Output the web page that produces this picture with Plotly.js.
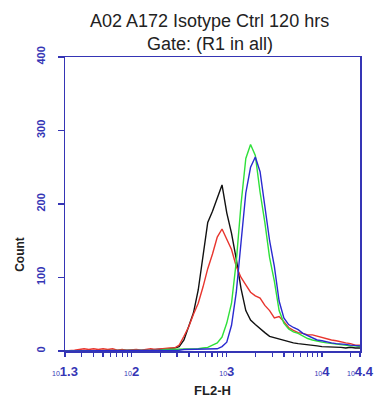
<!DOCTYPE html>
<html><head><meta charset="utf-8">
<script src="https://cdn.plot.ly/plotly-3.0.1.min.js"></script>
<style>html,body{margin:0;padding:0;background:#fff;}#chart{width:376px;height:407px;}</style>
</head><body><div id="chart"></div>
<script>
// FL2-H histogram bins (log10 of intensity)
var logFL2 = [1.30,1.35,1.40,1.45,1.50,1.55,1.60,1.65,1.70,1.75,1.80,1.85,1.90,1.95,2.00,2.05,2.10,2.15,2.20,2.25,2.30,2.35,2.40,2.45,2.50,2.55,2.60,2.65,2.70,2.75,2.80,2.85,2.90,2.95,3.00,3.05,3.10,3.15,3.20,3.25,3.30,3.35,3.40,3.45,3.50,3.55,3.60,3.65,3.70,3.75,3.80,3.85,3.90,3.95,4.00,4.05,4.10,4.15,4.20,4.25,4.30,4.35,4.40];
var blackCounts = [0,0,0,1,0,1,0,1,1,0,1,0,1,0,1,1,0,1,1,2,2,3,3,4,6,15,33,52,83,128,175,190,208,226,188,160,125,85,55,42,36,30,25,20,18,16,14,12,11,10,9,8,8,7,6,6,5,5,5,4,5,4,4];
var redCounts   = [0,0,1,2,3,2,3,2,3,2,3,1,2,1,2,2,1,2,3,2,3,3,4,4,8,20,33,50,65,87,112,132,155,166,152,138,115,100,90,80,75,72,62,55,45,47,40,32,28,25,24,22,22,20,18,17,15,14,12,11,10,8,8];
var greenCounts = [0,0,0,0,0,1,0,0,1,0,0,1,0,0,1,0,1,0,1,1,1,2,2,2,2,3,3,3,3,4,5,8,11,19,38,65,122,200,262,281,266,216,175,127,95,55,38,30,26,24,20,17,15,13,12,11,10,9,8,8,7,7,6];
var blueCounts  = [0,0,0,0,0,0,1,0,0,1,0,0,0,1,0,0,1,0,0,1,1,1,1,1,1,2,2,2,2,2,2,3,3,6,12,35,80,148,215,250,264,244,198,150,115,68,45,36,32,29,24,21,18,15,14,12,11,10,10,9,8,8,7];

var majorTicks = [1.3, 2, 3, 4, 4.4];
var majorLabels = ["1.3","2","3","4","4.4"];
var minorTicks = [30,40,50,60,70,80,90,200,300,400,500,600,700,800,900,2000,3000,4000,5000,6000,7000,8000,9000,20000];
var yTicks = [0,100,200,300,400];

var xs = logFL2.map(function(v){return Math.pow(10,v);});
var tickvals = [], ticktext = [];
majorTicks.forEach(function(m,i){tickvals.push(Math.pow(10,m)); ticktext.push("<span style='font-size:7px'>10</span><b>"+majorLabels[i]+"</b>");});
minorTicks.forEach(function(m){tickvals.push(m); ticktext.push("");});

function tr(y,c){return {x:xs,y:y,type:'scatter',mode:'lines',line:{color:c,width:1.4,shape:'linear'},hoverinfo:'skip'};}
var data=[tr(blackCounts,'#111111'),tr(redCounts,'#e8352e'),tr(greenCounts,'#2fe03a'),tr(blueCounts,'#2a2ad0')];

var axisBlue='#3535b5';
var fam='Liberation Sans, Arial, sans-serif';
var layout={
  width:376,height:407,
  margin:{l:65,r:16,t:57,b:56},
  paper_bgcolor:'#fff',plot_bgcolor:'#fff',
  showlegend:false,
  font:{family:fam,color:'#222'},
  xaxis:{type:'log',range:[1.3,4.4],tickmode:'array',tickvals:tickvals,ticktext:ticktext,
    ticks:'outside',ticklen:4,tickwidth:1.2,tickcolor:axisBlue,showgrid:false,zeroline:false,
    showline:true,linecolor:axisBlue,linewidth:1.5,mirror:true,ticklabelstandoff:4,
    tickfont:{size:13,color:axisBlue,family:fam},
    title:{text:'<b>FL2-H</b>',font:{size:13,color:'#222'},standoff:8}},
  yaxis:{range:[0,400],tickmode:'array',tickvals:yTicks,ticktext:yTicks.map(function(v){return '<b>'+v+'</b>';}),
    tickangle:-90,ticks:'outside',ticklen:6,tickwidth:1.2,tickcolor:axisBlue,showgrid:false,zeroline:false,
    showline:true,linecolor:axisBlue,linewidth:1.5,mirror:true,ticklabelstandoff:8,
    tickfont:{size:11,color:axisBlue,family:fam}},
  annotations:[
    {text:'A02 A172 Isotype Ctrl 120 hrs',xref:'paper',yref:'paper',x:0.49,y:1.122,xanchor:'center',yanchor:'middle',showarrow:false,font:{size:18,color:'#222'}},
    {text:'Gate: (R1 in all)',xref:'paper',yref:'paper',x:0.49,y:1.045,xanchor:'center',yanchor:'middle',showarrow:false,font:{size:18,color:'#222'}},
    {text:'<b>Count</b>',xref:'paper',yref:'paper',x:-0.153,y:0.33,xanchor:'center',yanchor:'middle',textangle:-90,showarrow:false,font:{size:12,color:'#222'}}]
};
Plotly.newPlot('chart',data,layout,{staticPlot:true,displayModeBar:false});
</script></body></html>
